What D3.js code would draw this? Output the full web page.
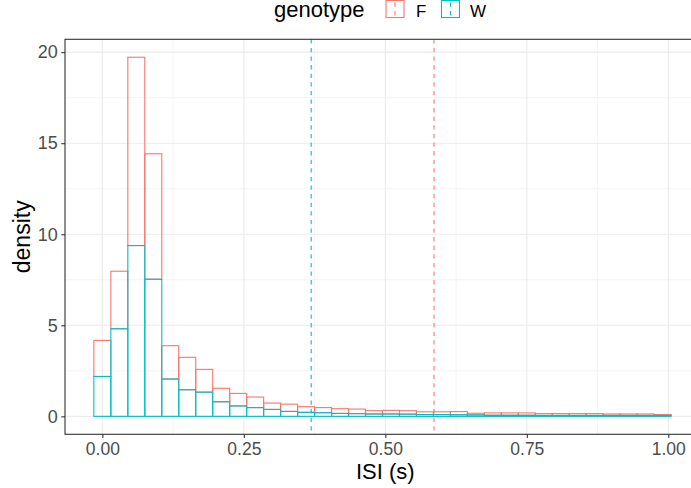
<!DOCTYPE html>
<html>
<head>
<meta charset="utf-8">
<script src="https://cdn.jsdelivr.net/npm/d3@7"></script>
<style>
  html, body { margin: 0; padding: 0; background: #fff; overflow: hidden; }
  svg { display: block; }
  text { font-family: "Liberation Sans", Arial, sans-serif; }
</style>
</head>
<body>
<svg id="chart" width="691" height="488"></svg>
<script>
// ---- data ----
const binCenters = [0.00,0.03,0.06,0.09,0.12,0.15,0.18,0.21,0.24,0.27,0.30,0.33,0.36,0.39,0.42,0.45,0.48,0.51,0.54,0.57,0.60,0.63,0.66,0.69,0.72,0.75,0.78,0.81,0.84,0.87,0.90,0.93,0.96,0.99];
const binWidth = 0.03;
const genotypes = ["F", "W"];
const densityF = [1.98,3.16,10.34,6.89,1.83,1.78,1.25,0.74,0.69,0.58,0.35,0.40,0.31,0.28,0.26,0.25,0.18,0.20,0.19,0.15,0.15,0.17,0.09,0.13,0.13,0.13,0.10,0.10,0.10,0.10,0.08,0.08,0.08,0.05];
const densityW = [2.19,4.81,9.38,7.53,2.05,1.46,1.33,0.80,0.57,0.48,0.38,0.27,0.22,0.20,0.16,0.15,0.13,0.13,0.12,0.10,0.10,0.09,0.08,0.06,0.06,0.06,0.05,0.05,0.05,0.05,0.05,0.05,0.05,0.05];
const meanISI = { F: 0.586, W: 0.369 };
const xTicks = [0, 0.25, 0.5, 0.75, 1.0];
const xTickLabels = ["0.00", "0.25", "0.50", "0.75", "1.00"];
const yTicks = [0, 5, 10, 15, 20];
const colors = { F: "#F8766D", W: "#00BFC4" };

// ---- layout ----
const svg = d3.select("#chart");
const panel = { left: 65, top: 39.3, bottom: 434.3, right: 700 };

const xMin = binCenters[0] - binWidth / 2;
const xMax = binCenters[binCenters.length - 1] + binWidth / 2;
const xPad = (xMax - xMin) * 0.05;
const x = d3.scaleLinear().domain([xMin - xPad, xMax + xPad]).range([panel.left, panel.right]);

// stacked: W at bottom, F on top
const stacked = binCenters.map((c, i) => ({ c, w: densityW[i], f: densityF[i], top: densityW[i] + densityF[i] }));
const yMaxData = d3.max(stacked, d => d.top);
const yPad = yMaxData * 0.05;
const y = d3.scaleLinear().domain([-yPad, yMaxData + yPad]).range([panel.bottom, panel.top]);

const grid = "#EBEBEB";
const dark = "#333333";

// panel background
svg.append("rect").attr("x", panel.left).attr("y", panel.top)
  .attr("width", panel.right - panel.left).attr("height", panel.bottom - panel.top)
  .attr("fill", "#fff");

// minor grid
const xMinor = xTicks.slice(0, -1).map((t, i) => (t + xTicks[i + 1]) / 2);
const yMinor = yTicks.slice(0, -1).map((t, i) => (t + yTicks[i + 1]) / 2);
svg.append("g").selectAll("line").data(xMinor).join("line")
  .attr("x1", d => x(d)).attr("x2", d => x(d)).attr("y1", panel.top).attr("y2", panel.bottom)
  .attr("stroke", grid).attr("stroke-width", 0.55);
svg.append("g").selectAll("line").data(yMinor).join("line")
  .attr("y1", d => y(d)).attr("y2", d => y(d)).attr("x1", panel.left).attr("x2", panel.right)
  .attr("stroke", grid).attr("stroke-width", 0.55);
// major grid
svg.append("g").selectAll("line").data(xTicks).join("line")
  .attr("x1", d => x(d)).attr("x2", d => x(d)).attr("y1", panel.top).attr("y2", panel.bottom)
  .attr("stroke", grid).attr("stroke-width", 1.1);
svg.append("g").selectAll("line").data(yTicks).join("line")
  .attr("y1", d => y(d)).attr("y2", d => y(d)).attr("x1", panel.left).attr("x2", panel.right)
  .attr("stroke", grid).attr("stroke-width", 1.1);

// bars: F stacked on top of W
const bars = svg.append("g");
bars.selectAll("rect.f").data(stacked).join("rect").attr("class", "f")
  .attr("x", d => x(d.c - binWidth / 2)).attr("width", d => x(d.c + binWidth / 2) - x(d.c - binWidth / 2))
  .attr("y", d => y(d.top)).attr("height", d => y(d.w) - y(d.top))
  .attr("fill", "none").attr("stroke", colors.F).attr("stroke-width", 1.1);
bars.selectAll("rect.w").data(stacked).join("rect").attr("class", "w")
  .attr("x", d => x(d.c - binWidth / 2)).attr("width", d => x(d.c + binWidth / 2) - x(d.c - binWidth / 2))
  .attr("y", d => y(d.w)).attr("height", d => y(0) - y(d.w))
  .attr("fill", "none").attr("stroke", colors.W).attr("stroke-width", 1.1);

// mean lines
svg.append("g").selectAll("line").data(genotypes).join("line")
  .attr("x1", d => x(meanISI[d])).attr("x2", d => x(meanISI[d]))
  .attr("y1", panel.top).attr("y2", panel.bottom)
  .attr("stroke", d => colors[d]).attr("stroke-width", 1.1).attr("stroke-dasharray", "4.3,4.3");

// panel border
svg.append("rect").attr("x", panel.left).attr("y", panel.top)
  .attr("width", panel.right - panel.left).attr("height", panel.bottom - panel.top)
  .attr("fill", "none").attr("stroke", dark).attr("stroke-width", 1.1);

// axes
const xAxis = d3.axisBottom(x).tickValues(xTicks).tickFormat((d, i) => xTickLabels[i]).tickSizeInner(3.7).tickSizeOuter(0).tickPadding(4.5);
const gx = svg.append("g").attr("transform", `translate(0,${panel.bottom})`).call(xAxis);
gx.select(".domain").remove();
gx.selectAll(".tick line").attr("stroke", dark).attr("stroke-width", 1.1);
gx.selectAll(".tick text").attr("fill", "#4D4D4D").attr("font-size", "17.5px").attr("dy", "0.71em")
  .attr("font-family", "Liberation Sans, Arial, sans-serif");

const yAxis = d3.axisLeft(y).tickValues(yTicks).tickFormat(d3.format("d")).tickSizeInner(3.7).tickSizeOuter(0).tickPadding(3.5);
const gy = svg.append("g").attr("transform", `translate(${panel.left},0)`).call(yAxis);
gy.select(".domain").remove();
gy.selectAll(".tick line").attr("stroke", dark).attr("stroke-width", 1.1);
gy.selectAll(".tick text").attr("fill", "#4D4D4D").attr("font-size", "18px")
  .attr("font-family", "Liberation Sans, Arial, sans-serif");

// axis titles
svg.append("text").attr("x", x(0.5)).attr("y", 479).attr("text-anchor", "middle")
  .attr("font-size", "22px").attr("fill", "#000").text("ISI (s)");
svg.append("text").attr("transform", `translate(30,${(panel.top + panel.bottom) / 2}) rotate(-90)`)
  .attr("text-anchor", "middle").attr("font-size", "23px").attr("fill", "#000").text("density");

// legend
const legend = svg.append("g");
legend.append("text").attr("x", 274).attr("y", 16.5).attr("font-size", "22px").attr("fill", "#000").text("genotype");
const keyX = { F: 386, W: 441.5 };
const labelX = { F: 416, W: 470 };
genotypes.forEach(g => {
  const kx = keyX[g], kw = 18, ky = 0.5, kh = 17;
  legend.append("rect").attr("x", kx).attr("y", ky).attr("width", kw).attr("height", kh)
    .attr("fill", "#fff").attr("stroke", colors[g]).attr("stroke-width", 1.1);
  legend.append("line").attr("x1", kx + kw / 2).attr("x2", kx + kw / 2).attr("y1", ky).attr("y2", ky + kh)
    .attr("stroke", colors[g]).attr("stroke-width", 1.1).attr("stroke-dasharray", "4.3,4.3").attr("stroke-dashoffset", -2);
  legend.append("text").attr("x", labelX[g]).attr("y", 16.5).attr("font-size", "17px").attr("fill", "#000").text(g);
});
</script>
</body>
</html>
